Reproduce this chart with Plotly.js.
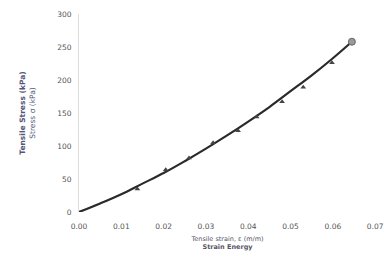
<!DOCTYPE html>
<html><head><meta charset="utf-8">
<script src="https://cdn.plot.ly/plotly-3.0.1.min.js"></script>
<style>html,body{margin:0;padding:0;background:#fff}#chart{width:384px;height:257px}</style>
</head><body><div id="chart"></div>
<script>
// Fitted curve
const curveStrain = [0, 0.005, 0.01, 0.015, 0.02, 0.025, 0.03, 0.035, 0.04, 0.045, 0.05, 0.055, 0.06, 0.0645];
const curveStress = [0, 13, 27, 43, 59, 77, 96, 116, 137, 159, 183, 207, 233, 258];
const pointStrain = [0.0138, 0.0205, 0.026, 0.0317, 0.0376, 0.042, 0.048, 0.053, 0.0598];
const pointStress = [35, 64, 82, 105, 123, 144, 167, 189, 226];
const endStrain = [0.0645];
const endStress = [258];
const xTicks = [0, 0.01, 0.02, 0.03, 0.04, 0.05, 0.06, 0.07];
const xTickText = ['0.00', '0.01', '0.02', '0.03', '0.04', '0.05', '0.06', '0.07'];
const yTicks = [0, 50, 100, 150, 200, 250, 300];

const data = [
  {x: curveStrain, y: curveStress, mode: 'lines', type: 'scatter', line: {color: '#2a2a2a', width: 2.2, shape: 'spline'}, hoverinfo: 'skip', cliponaxis: false},
  {x: pointStrain, y: pointStress, mode: 'markers', type: 'scatter', marker: {symbol: 'triangle-up', size: 5, color: '#444'}, cliponaxis: false},
  {x: endStrain, y: endStress, mode: 'markers', type: 'scatter', marker: {symbol: 'circle', size: 7, color: '#999', line: {color: '#666', width: 1}}, cliponaxis: false}
];
const layout = {
  width: 384, height: 257,
  margin: {l: 79, r: 8, t: 14, b: 45},
  paper_bgcolor: '#fff', plot_bgcolor: '#fff',
  showlegend: false,
  font: {family: 'DejaVu Sans, sans-serif', size: 7, color: '#555'},
  xaxis: {
    range: [0, 0.0702], tickvals: xTicks, ticktext: xTickText,
    showgrid: false, zeroline: false, showline: false, ticks: '',
    ticklabelstandoff: 8,
    tickfont: {size: 7.5, color: '#555'},
    title: {text: 'Tensile strain, ε (m/m)<br><b>Strain Energy</b>', font: {size: 6.5, color: '#556'}, standoff: 6}
  },
  yaxis: {
    range: [0, 300], tickvals: yTicks,
    showgrid: false, zeroline: false, showline: true, linecolor: '#ddd', linewidth: 1, ticks: '',
    ticklabelstandoff: 5,
    tickfont: {size: 7.5, color: '#555'},
    title: {text: '<b>Tensile Stress (kPa)</b><br>Stress σ (kPa)', font: {size: 7.5, color: '#557'}, standoff: 20}
  }
};
Plotly.newPlot('chart', data, layout, {staticPlot: true});
</script></body></html>
